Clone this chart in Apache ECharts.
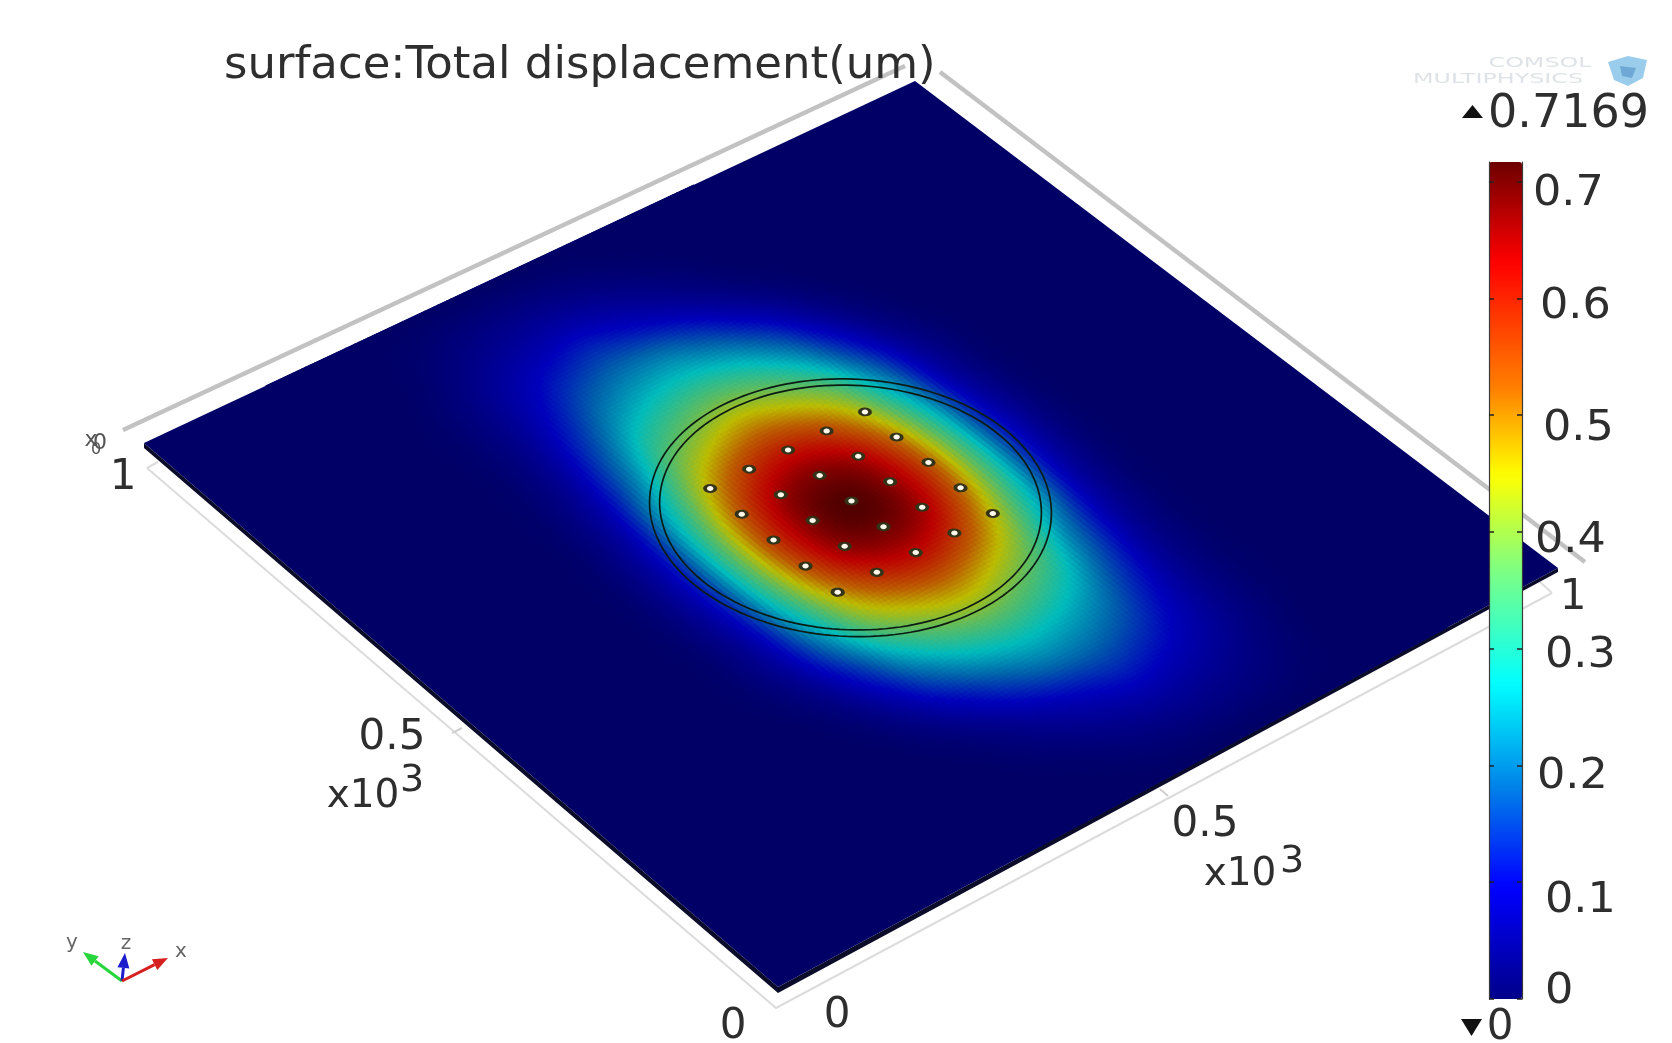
<!DOCTYPE html>
<html><head><meta charset="utf-8">
<style>html,body{margin:0;padding:0;background:#fff}#c{width:1672px;height:1043px;filter:blur(0.6px)}</style>
<script src="https://cdn.jsdelivr.net/npm/echarts@6/dist/echarts.min.js"></script>
</head><body><div id="c"></div>
<script>
// ---------- data ----------
const title = 'surface:Total displacement(um)';
const maxValue = 0.7169, minValue = 0;
const gridX = [0,50,100,150,200,250,300,350,400,450,500,550,600,650,700,750,800,850,900,950,1000];
const gridY = [0,50,100,150,200,250,300,350,400,450,500,550,600,650,700,750,800,850,900,950,1000];
// displacement (um); rows follow gridY, columns follow gridX
const displacement = [
[0,0,0,0,0,0,0,0,0,0,0,0,0,0,0,0,0,0,0,0,0],
[0,0,0,0, 0,0,0,0,0,.006,.018,.026,.027,.02,.008,0,0, 0,0,0,0],
[0,0,0,0, 0,0,0,0,.009,.029,.052,.067,.06,.043,.02,.002,0, 0,0,0,0],
[0,0,0,0, 0,0,0,.007,.034,.072,.107,.129,.107,.072,.034,.007,0, 0,0,0,0],
[0,0,0,0, 0,0,.004,.034,.088,.153,.2,.2,.164,.1,.042,.009,0, 0,0,0,0],
[0,0,0,0, 0,0,.021,.08,.175,.253,.289,.275,.225,.133,.05,.01,0, 0,0,0,0],
[0,0,0,0, 0,.007,.047,.142,.272,.359,.396,.366,.298,.172,.062,.012,0, 0,0,0,0],
[0,0,0,0, 0,.016,.077,.213,.376,.465,.505,.465,.376,.213,.077,.016,0, 0,0,0,0],
[0,0,0,0, 0,.019,.094,.273,.457,.572,.614,.572,.457,.273,.094,.019,0, 0,0,0,0],
[0,0,0,0, 0,.024,.11,.318,.523,.652,.6875,.652,.523,.318,.11,.024,0, 0,0,0,0],
[0,0,0,0, 0,.026,.117,.335,.55,.675,.7169,.675,.55,.335,.117,.026,0, 0,0,0,0],
[0,0,0,0, 0,.024,.11,.318,.523,.652,.6875,.652,.523,.318,.11,.024,0, 0,0,0,0],
[0,0,0,0, 0,.019,.094,.273,.457,.572,.614,.572,.457,.273,.094,.019,0, 0,0,0,0],
[0,0,0,0, 0,.016,.077,.213,.376,.465,.505,.465,.376,.213,.077,.016,0, 0,0,0,0],
[0,0,0,0, 0,.012,.062,.172,.298,.366,.396,.359,.272,.142,.047,.007,0, 0,0,0,0],
[0,0,0,0, 0,.01,.05,.133,.225,.275,.289,.253,.175,.08,.021,0,0, 0,0,0,0],
[0,0,0,0, 0,.009,.042,.1,.164,.2,.2,.153,.088,.034,.004,0,0, 0,0,0,0],
[0,0,0,0, 0,.007,.034,.072,.107,.129,.107,.072,.034,.007,0,0,0, 0,0,0,0],
[0,0,0,0, 0,.002,.02,.043,.06,.067,.052,.029,.009,0,0,0,0, 0,0,0,0],
[0,0,0,0, 0,0,.008,.02,.027,.026,.018,.006,0,0,0,0,0, 0,0,0,0],
[0,0,0,0,0,0,0,0,0,0,0,0,0,0,0,0,0,0,0,0,0]
];
const ringCenter = [500,500];
const ringRadii = [200,190];
const holeXs = [405,455,505,555,605];
const holeYs = [405,455,505,555,605];
const colorbarTicks = [0,0.1,0.2,0.3,0.4,0.5,0.6,0.7];
const colorbarTickLabels = ['0','0.1','0.2','0.3','0.4','0.5','0.6','0.7'];
const colorStopValues = [0,0.096,0.18,0.27,0.369,0.449,0.523,0.631,0.7169];
const colorStopColors = ['#00008a','#0000ff','#0080e8','#00ffff','#80ff80','#ffff00','#ff8000','#ff0000','#6e0000'];
const surfaceShade = 0.74;

// ---------- layout ----------
const W = 1672, H = 1043;
const plateCorners = {bottom:[778,987], right:[1558,568], top:[915,81], left:[144,443]};
const edgePolygon = [[144,443],[778,987],[1558,568],[1558,572],[778,993],[144,448]];
const frameLines = [
 {pts:[[123,430],[905,66]], w:4.5, c:'#c2c2c2'},
 {pts:[[940,72],[1585,562]], w:4.5, c:'#c2c2c2'},
 {pts:[[147,468],[776,1008],[1552,593]], w:2, c:'#dcdcdc'},
 {pts:[[1552,593],[1540,582]], w:2, c:'#dcdcdc'},
 {pts:[[147,468],[158,462]], w:2, c:'#dcdcdc'},
 {pts:[[452,733],[462,728]], w:2, c:'#d0d0d0'},
 {pts:[[1168,796],[1160,789]], w:2, c:'#d0d0d0'}
];
const textColor = '#2e2e2e';
const labels = [
 {t:title, x:224, y:66, s:45, a:'left'},
 {t:'0.7169', x:1488, y:115, s:46, a:'left'},
 {t:'0', x:1500, y:1028, s:42, a:'center'},
 {t:'1', x:123, y:478, s:42, a:'center'},
 {t:'1', x:1573, y:598, s:42, a:'center'},
 {t:'0', x:733, y:1027, s:42, a:'center'},
 {t:'0', x:837, y:1016, s:42, a:'center'},
 {t:'0.5', x:392, y:738, s:42, a:'center'},
 {t:'x10', x:363, y:797, s:39, a:'center'},
 {t:'3', x:412, y:781, s:38, a:'center'},
 {t:'0.5', x:1205, y:825, s:42, a:'center'},
 {t:'x10', x:1240, y:875, s:39, a:'center'},
 {t:'3', x:1292, y:862, s:38, a:'center'},
 {t:'0', x:100, y:443, s:22, a:'center', c:'#555'},
 {t:'x', x:91, y:440, s:22, a:'center', c:'#555'},
 {t:'0', x:96, y:450, s:16, a:'center', c:'#555'},
 {t:'y', x:72, y:943, s:20, a:'center', c:'#666'},
 {t:'z', x:126, y:944, s:20, a:'center', c:'#666'},
 {t:'x', x:181, y:952, s:20, a:'center', c:'#666'},
 {t:'COMSOL', x:1540, y:63, s:14, a:'center', c:'#dfe3e8', sx:1.7},
 {t:'MULTIPHYSICS', x:1498, y:79, s:14, a:'center', c:'#dfe3e8', sx:1.7}
];
const colorbarLabelX = [1545,1545,1537,1545,1535,1543,1540,1533];
const colorbarLabelY = [992,901,777,656,541,429,307,194];
const triad = [
 {to:[83,952], c:'#26d63a'},
 {to:[125,953], c:'#1c1ccc'},
 {to:[168,958], c:'#d62020'}
];
const triadOrigin = [122,981];
const markers = [
 {pts:[[1462,118],[1483,118],[1472.5,105]], c:'#111'},
 {pts:[[1461,1019],[1482,1019],[1471.5,1036]], c:'#111'},
 {pts:[[1608,62],[1628,56],[1647,60],[1643,78],[1628,86],[1614,80]], c:'#9accec'},
 {pts:[[1620,66],[1636,68],[1632,78],[1622,76]], c:'#6fa8d4'}
];

// ---------- plate (x,y) -> picture position ----------
const H_ = (function(){
  const [x0,y0]=plateCorners.bottom,[x1,y1]=plateCorners.right,[x2,y2]=plateCorners.top,[x3,y3]=plateCorners.left;
  const dx1=x1-x2,dx2=x3-x2,sx=x0-x1+x2-x3,dy1=y1-y2,dy2=y3-y2,sy=y0-y1+y2-y3;
  const den=dx1*dy2-dx2*dy1,g=(sx*dy2-dx2*sy)/den,h=(dx1*sy-sx*dy1)/den;
  return {a:x1-x0+g*x1,b:x3-x0+h*x3,c:x0,d:y1-y0+g*y1,e:y3-y0+h*y3,f:y0,g,h};
})();
function project(x,y){
  const s=x/1000,t=y/1000,w=H_.g*s+H_.h*t+1;
  return [(H_.a*s+H_.b*t+H_.c)/w,(H_.d*s+H_.e*t+H_.f)/w];
}
function hex(c){return [parseInt(c.slice(1,3),16),parseInt(c.slice(3,5),16),parseInt(c.slice(5,7),16)];}
const stopRGB = colorStopColors.map(hex);
function ramp(v){
  v=Math.max(minValue,Math.min(maxValue,v));
  let i=0; while(i<colorStopValues.length-2 && v>colorStopValues[i+1]) i++;
  const f=(v-colorStopValues[i])/(colorStopValues[i+1]-colorStopValues[i]);
  return stopRGB[i].map((c,k)=>c+(stopRGB[i+1][k]-c)*f);
}
function css(rgb,k){return 'rgb('+rgb.map(c=>Math.round(c*k)).join(',')+')';}
const barColors=[]; for(let i=0;i<=96;i++) barColors.push(css(ramp(maxValue*i/96),1));
function cr(p0,p1,p2,p3,t){return 0.5*(2*p1+(p2-p0)*t+(2*p0-5*p1+4*p2-p3)*t*t+(3*p1-p0-3*p2+p3)*t*t*t);}
function cell(i,j){
  const r=displacement[Math.max(0,Math.min(gridY.length-1,j))];
  return r[Math.max(0,Math.min(gridX.length-1,i))];
}
function field(i,j,fx,fy){
  const c=[];
  for(let m=-1;m<=2;m++) c.push(cr(cell(i-1,j+m),cell(i,j+m),cell(i+1,j+m),cell(i+2,j+m),fx));
  return cr(c[0],c[1],c[2],c[3],fy);
}
const cells=[];
for(let j=0;j<gridY.length-1;j++)for(let i=0;i<gridX.length-1;i++){
  let m=0; for(let a=-1;a<=2;a++)for(let b=-1;b<=2;b++) m=Math.max(m,cell(i+a,j+b));
  if(m>0) cells.push([gridX[i],gridY[j],displacement[j][i],i,j]);
}
const SUB=9;
const chart=echarts.init(document.getElementById('c'),null,{renderer:'canvas'});
const P=(api,p)=>api.coord(p);
const base={type:'custom',coordinateSystem:'cartesian2d',xAxisIndex:0,yAxisIndex:0,silent:true,clip:false,animation:false};
const one=[[0,0]];
const F='"DejaVu Sans",Verdana,sans-serif';
chart.setOption({
  animation:false,backgroundColor:'#fff',
  grid:[{left:0,top:0,width:W,height:H},{left:1489,top:162,width:33,height:837}],
  xAxis:[{type:'value',min:0,max:W,show:false},{type:'value',gridIndex:1,min:0,max:1,show:false}],
  yAxis:[{type:'value',min:0,max:H,inverse:true,show:false},
    {type:'value',gridIndex:1,min:0,max:maxValue,interval:0.1,position:'left',z:10,
     axisLine:{show:true,lineStyle:{color:'#3a3a3a',width:1.2}},axisTick:{show:true,inside:true,length:5,lineStyle:{color:'#222',width:1.5},customValues:colorbarTicks},axisLabel:{show:false},splitLine:{show:false}},
    {type:'value',gridIndex:1,min:0,max:maxValue,interval:0.1,position:'right',z:10,
     axisLine:{show:true,lineStyle:{color:'#3a3a3a',width:1.2}},axisTick:{show:true,inside:true,length:5,lineStyle:{color:'#222',width:1.5},customValues:colorbarTicks},axisLabel:{show:false},splitLine:{show:false}}],
  visualMap:{type:'continuous',min:minValue,max:maxValue,seriesIndex:1,dimension:2,left:1489,top:162,itemWidth:33,itemHeight:837,padding:0,
    calculable:false,hoverLink:false,realtime:false,text:['',''],showLabel:false,inRange:{color:barColors},z:4},
  series:[
   Object.assign({},base,{z:1,data:one,renderItem(p,api){
     const c=plateCorners;
     return {type:'group',children:[
       {type:'polygon',shape:{points:edgePolygon.map(q=>P(api,q))},style:{fill:'#0b0b2a'}},
       {type:'polygon',shape:{points:[c.bottom,c.right,c.top,c.left].map(q=>P(api,q))},style:{fill:css(ramp(0),surfaceShade)}}
     ]};
   }}),
   Object.assign({},base,{z:2,data:cells,renderItem(p,api){
     const x0=api.value(0),y0=api.value(1),i=api.value(3),j=api.value(4);
     const dx=gridX[i+1]-x0,dy=gridY[j+1]-y0,ch=[];
     for(let a=0;a<SUB;a++)for(let b=0;b<SUB;b++){
       const v=field(i,j,(a+.5)/SUB,(b+.5)/SUB);
       const col=css(ramp(v),surfaceShade);
       const X0=x0+dx*a/SUB,X1=x0+dx*(a+1)/SUB,Y0=y0+dy*b/SUB,Y1=y0+dy*(b+1)/SUB;
       ch.push({type:'polygon',shape:{points:[[X0,Y0],[X1,Y0],[X1,Y1],[X0,Y1]].map(q=>P(api,project(q[0],q[1])))},
         style:{fill:col,stroke:col,lineWidth:1}});
     }
     return {type:'group',children:ch};
   }}),
   Object.assign({},base,{z:3,data:ringRadii.map(r=>[r,0]),renderItem(p,api){
     const r=api.value(0),pts=[];
     for(let k=0;k<160;k++){const t=k/160*2*Math.PI;pts.push(P(api,project(ringCenter[0]+r*Math.cos(t),ringCenter[1]+r*Math.sin(t))));}
     return {type:'polygon',shape:{points:pts},style:{fill:'none',stroke:'#0c1c14',lineWidth:1.7}};
   }}),
   Object.assign({},base,{z:3,data:holeXs.flatMap(x=>holeYs.map(y=>[x,y])),renderItem(p,api){
     const x=api.value(0),y=api.value(1),pts=[],c=P(api,project(x,y));
     for(let k=0;k<20;k++){const t=k/20*2*Math.PI;
       pts.push(P(api,project(x+7*Math.cos(t),y+7*Math.sin(t))));}
     return {type:'group',children:[
       {type:'polygon',shape:{points:pts},style:{fill:'#33331a'}},
       {type:'ellipse',shape:{cx:c[0],cy:c[1],rx:3.2,ry:2.5},style:{fill:'#fff8ec'}}]};
   }}),
   Object.assign({},base,{z:0,data:frameLines.map((l,i)=>[i,0]),renderItem(p,api){
     const l=frameLines[api.value(0)];
     return {type:'polyline',shape:{points:l.pts.map(q=>P(api,q))},style:{stroke:l.c,lineWidth:l.w,fill:'none'}};
   }}),
   Object.assign({},base,{z:6,data:triad.map((l,i)=>[i,0]),renderItem(p,api){
     const l=triad[api.value(0)],o=triadOrigin,dx=l.to[0]-o[0],dy=l.to[1]-o[1],n=Math.hypot(dx,dy),ux=dx/n,uy=dy/n;
     const b=[l.to[0]-ux*15,l.to[1]-uy*15];
     return {type:'group',children:[
       {type:'line',shape:{x1:P(api,o)[0],y1:P(api,o)[1],x2:P(api,b)[0],y2:P(api,b)[1]},style:{stroke:l.c,lineWidth:3}},
       {type:'polygon',shape:{points:[l.to,[b[0]-uy*6,b[1]+ux*6],[b[0]+uy*6,b[1]-ux*6]].map(q=>P(api,q))},style:{fill:l.c}}]};
   }}),
   Object.assign({},base,{z:6,data:markers.map((l,i)=>[i,0]),renderItem(p,api){
     const l=markers[api.value(0)];
     return {type:'polygon',shape:{points:l.pts.map(q=>P(api,q))},style:{fill:l.c}};
   }}),
   Object.assign({},base,{z:20,data:labels.map((l,i)=>[i,0]),renderItem(p,api){
     const l=labels[api.value(0)],q=P(api,[l.x,l.y]);
     return {type:'text',x:q[0],y:q[1],scaleX:l.sx||1,style:{text:l.t,fontFamily:F,fontSize:l.s,fill:l.c||textColor,align:l.a,verticalAlign:'middle'}};
   }}),
   Object.assign({},base,{z:20,data:colorbarTicks.map((v,i)=>[i,v]),renderItem(p,api){
     const i=api.value(0),q=P(api,[colorbarLabelX[i],colorbarLabelY[i]]);
     return {type:'text',x:q[0],y:q[1],scaleX:1.06,style:{text:colorbarTickLabels[i],fontFamily:F,fontSize:42,fill:textColor,align:'left',verticalAlign:'middle'}};
   }})
  ]
});
</script></body></html>
